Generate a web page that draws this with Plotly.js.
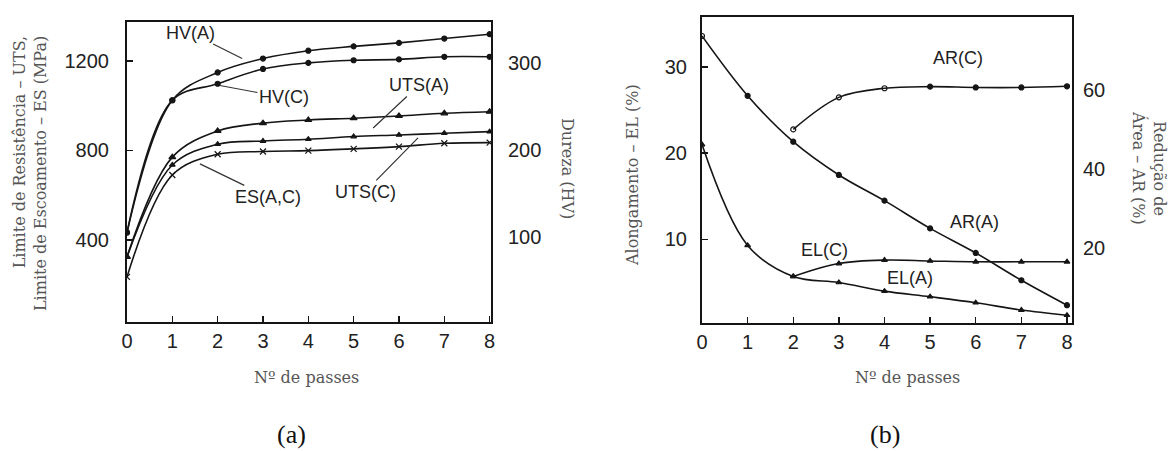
<!DOCTYPE html>
<html>
<head>
<meta charset="utf-8">
<script src="https://cdn.plot.ly/plotly-3.0.1.min.js"></script>
<style>
  html, body { margin: 0; padding: 0; background: #fff; }
  #chart { width: 1171px; height: 451px; }
</style>
</head>
<body>
<div id="chart"></div>
<script>
// Number of passes (x axis of both panels)
const passes = [0, 1, 2, 3, 4, 5, 6, 7, 8];
const passesC = [2, 3, 4, 5, 6, 7, 8];

// Panel (a): hardness (HV) and strength (MPa)
const hvA = [105, 257, 289, 305, 314, 319, 323, 328, 333];
const hvC = [105, 257, 276, 293, 300, 303, 304, 307, 307];
const utsA = [324, 770, 887, 922, 936, 944, 954, 966, 973];
const utsC = [324, 735, 828, 842, 850, 862, 869, 877, 884];
const esAC = [235, 690, 783, 795, 799, 807, 817, 832, 835];

// Panel (b): elongation (%) and reduction of area (%)
const arA = [73.6, 58.5, 46.9, 38.5, 32.0, 25.0, 18.8, 11.9, 5.6];
const arC = [50.0, 58.1, 60.4, 60.8, 60.6, 60.6, 60.9];
const elA = [21.0, 9.3, 5.7, 5.0, 4.0, 3.35, 2.65, 1.8, 1.2];
const elC = [5.7, 7.2, 7.6, 7.5, 7.4, 7.4, 7.4];

// Tick values
const mpaTicks = [400, 800, 1200];
const hvTicks = [100, 200, 300];
const elTicks = [10, 20, 30];
const arTicks = [20, 40, 60];

const INK = '#151515';
const tickFont = { family: 'Liberation Sans, Arial, sans-serif', size: 20, color: '#222' };
const labelFont = { family: 'Liberation Sans, Arial, sans-serif', size: 18, color: '#222' };
const titleFont = { family: 'DejaVu Serif, serif', size: 16, color: '#555' };

function curve(x, y, xa, ya, symbol, size, name) {
  return {
    x: x, y: y, xaxis: xa, yaxis: ya, name: name,
    type: 'scatter', mode: 'lines+markers',
    line: { color: INK, width: 1.6, shape: 'spline', smoothing: 1 },
    marker: { symbol: symbol, size: size, color: INK, line: { color: INK, width: 1.2 } },
    showlegend: false, hoverinfo: 'skip'
  };
}

const traces = [
  curve(passes, hvA, 'x', 'y2', 'circle', 5, 'HV(A)'),
  curve(passes, hvC, 'x', 'y2', 'circle', 5, 'HV(C)'),
  curve(passes, utsA, 'x', 'y', 'triangle-up', 6, 'UTS(A)'),
  curve(passes, utsC, 'x', 'y', 'triangle-up', 5, 'UTS(C)'),
  curve(passes, esAC, 'x', 'y', 'x-thin', 6, 'ES(A,C)'),
  curve(passes, arA, 'x2', 'y4',
        ['circle-open', 'circle', 'circle', 'circle', 'circle', 'circle', 'circle', 'circle', 'circle'], 5, 'AR(A)'),
  curve(passesC, arC, 'x2', 'y4',
        ['circle-open', 'circle-open', 'circle-open', 'circle', 'circle', 'circle', 'circle'], 5, 'AR(C)'),
  curve(passes, elA, 'x2', 'y3', 'triangle-up', 5, 'EL(A)'),
  curve(passesC, elC, 'x2', 'y3', 'triangle-up', 5, 'EL(C)')
];

const xBase = {
  tickvals: passes, ticktext: passes.map(String),
  ticks: 'inside', ticklen: 6, tickwidth: 1.5, tickcolor: INK,
  showline: true, mirror: true, linecolor: INK, linewidth: 2,
  showgrid: false, zeroline: false, tickfont: tickFont, ticklabelstandoff: 0
};
const yLeft = {
  ticks: 'inside', ticklen: 6, tickwidth: 1.5, tickcolor: INK,
  showline: true, mirror: true, linecolor: INK, linewidth: 2,
  showgrid: false, zeroline: false, tickfont: tickFont
};
const yRight = {
  side: 'right', ticks: '', showline: false, showgrid: false, zeroline: false,
  tickfont: tickFont
};

function leader(text, x, y, xref, yref, ax, ay) {
  return {
    text: text, x: x, y: y, xref: xref, yref: yref, ax: ax, ay: ay,
    showarrow: true, arrowhead: 0, arrowwidth: 1.2, arrowcolor: '#333',
    font: labelFont
  };
}
function paperText(text, x, y, font, angle, align) {
  return {
    text: text, x: x / 1171, y: 1 - y / 451, xref: 'paper', yref: 'paper',
    xanchor: 'center', yanchor: 'middle', showarrow: false,
    font: font, textangle: angle || 0, align: align || 'center'
  };
}

const annotations = [
  // curve labels, panel (a)
  leader('HV(A)', 2.54, 305, 'x', 'y2', -52, -26),
  leader('HV(C)', 2.05, 274, 'x', 'y2', 64, 12),
  leader('UTS(A)', 5.43, 900, 'x', 'y', 46, -43),
  leader('UTS(C)', 6.42, 856, 'x', 'y', -53, 54),
  leader('ES(A,C)', 1.61, 740, 'x', 'y', 68, 33),
  // curve labels, panel (b)
  paperText('AR(C)', 958, 58, labelFont),
  paperText('AR(A)', 974, 222, labelFont),
  paperText('EL(C)', 824, 250, labelFont),
  paperText('EL(A)', 910, 278, labelFont),
  // axis titles
  paperText('Limite de Resistência – UTS,<br>Limite de Escoamento – ES (MPa)', 30, 174, titleFont, -90, 'right'),
  paperText('Dureza (HV)', 568, 168, titleFont, 90),
  paperText('Nº de passes', 306, 377, titleFont),
  paperText('Alongamento – EL (%)', 633, 175, titleFont, -90),
  paperText('Redução de<br>Área – AR (%)', 1149, 168, titleFont, 90),
  paperText('Nº de passes', 907, 377, titleFont),
  // panel captions
  paperText('(a)', 291, 434, { family: 'Liberation Serif, Times New Roman, serif', size: 26, color: '#111' }),
  paperText('(b)', 885, 434, { family: 'Liberation Serif, Times New Roman, serif', size: 26, color: '#111' })
];

const layout = {
  width: 1171, height: 451,
  margin: { l: 0, r: 0, t: 0, b: 0, pad: 0 },
  paper_bgcolor: '#fff', plot_bgcolor: '#fff',
  showlegend: false,
  xaxis: Object.assign({}, xBase, { domain: [0.10845, 0.41930], range: [0, 8.03], anchor: 'y' }),
  yaxis: Object.assign({}, yLeft, { domain: [0.2860, 0.9512], range: [33, 1374], tickvals: mpaTicks, anchor: 'x', ticklabelstandoff: 12 }),
  yaxis2: Object.assign({}, yRight, { overlaying: 'y', anchor: 'x', range: [2, 347], tickvals: hvTicks, ticklabelstandoff: 16 }),
  xaxis2: Object.assign({}, xBase, { domain: [0.59949, 0.91546], range: [0, 8.11], anchor: 'y3' }),
  yaxis3: Object.assign({}, yLeft, { domain: [0.2838, 0.9623], range: [0.3, 35.8], tickvals: elTicks, anchor: 'x2', ticklabelstandoff: 9 }),
  yaxis4: Object.assign({}, yRight, { overlaying: 'y3', anchor: 'x2', range: [1.1, 78.4], tickvals: arTicks, ticklabelstandoff: 10 }),
  annotations: annotations
};

Plotly.newPlot('chart', traces, layout, { displayModeBar: false, staticPlot: true });
</script>
</body>
</html>
